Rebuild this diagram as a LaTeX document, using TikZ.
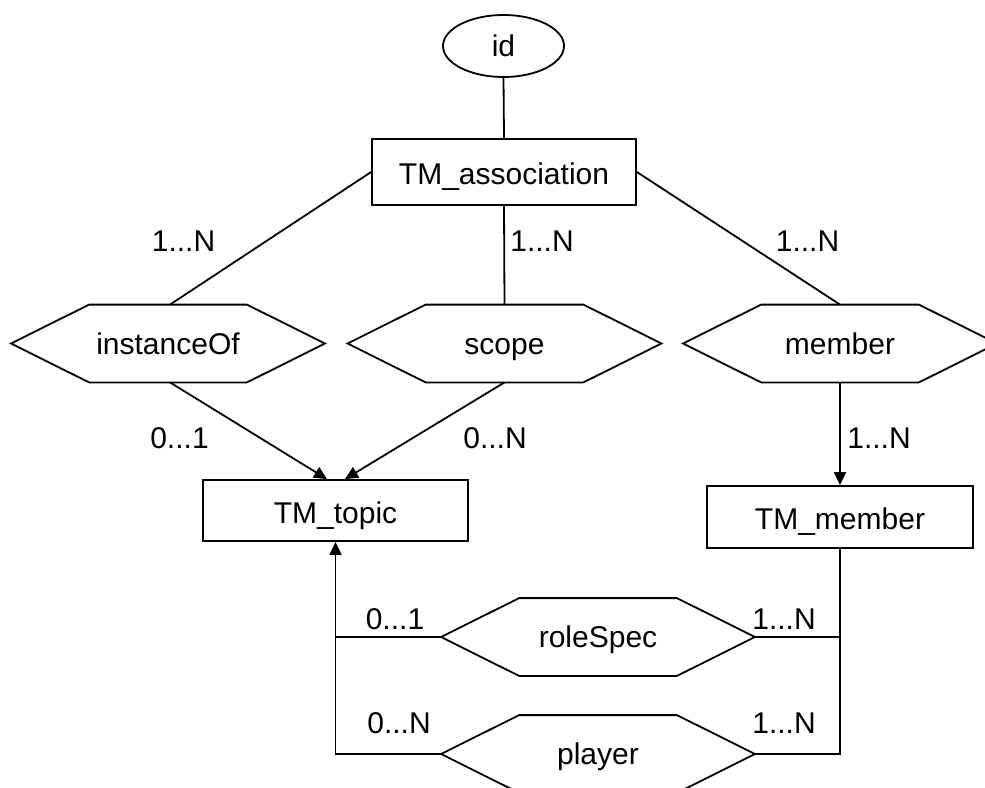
\documentclass[tikz,border=0pt]{standalone}
\usepackage{fontspec}
\setmainfont{Liberation Sans}
\usetikzlibrary{arrows.meta,shapes.geometric}

\tikzset{
  base/.style={font=\fontsize{15}{18}\selectfont, inner sep=0pt, line width=0.9pt,
    text height=10.7pt, text depth=0pt},
  entity/.style={base, draw, rectangle, minimum height=#1, text height=12.7pt},
  attr/.style={base, draw, ellipse, minimum width=60.5pt, minimum height=31pt},
  relbox/.style={base, rectangle, minimum width=156pt, minimum height=38pt},
  card/.style={base},
  link/.style={line width=0.9pt},
  arrowlink/.style={line width=0.9pt, -{Triangle[length=6.5pt,width=6pt]}},
}

\begin{document}
\begin{tikzpicture}[x=0.5pt, y=-0.5pt]
  \useasboundingbox (0,0) rectangle (985,787);
  \fill[white] (0,0) rectangle (985,787);
  \clip (0,0) rectangle (985,787);

  % attribute and entities
  \node[attr] (id) at (503.5,46) {id};
  \node[entity=33pt, minimum width=132pt] (assoc) at (504,172) {TM\_association};
  \node[entity=30.5pt, minimum width=132.5pt] (topic) at (335.5,510.5) {TM\_topic};
  \node[entity=31pt, minimum width=133pt] (tmm) at (840,517) {TM\_member};

  % relationships (hexagons drawn around their boxes)
  \node[relbox] (inst)   at (168,343.5)   {instanceOf};
  \node[relbox] (scope)  at (504.5,343.5) {scope};
  \node[relbox] (member) at (840,343.5)   {member};
  \node[relbox] (role)   at (598,637)     {roleSpec};
  \node[relbox] (player) at (598,754)     {player};
  \foreach \n in {inst,scope,member,role,player}{
    \draw[link, line join=miter]
      (\n.west) -- ([xshift=39pt]\n.north west) -- ([xshift=-39pt]\n.north east)
      -- (\n.east) -- ([xshift=-39pt]\n.south east) -- ([xshift=39pt]\n.south west)
      -- cycle;
  }

  % connectors
  \draw[link] (id.south) -- (assoc.north);
  \draw[link] (assoc.west) -- ([xshift=1pt]inst.north);
  \draw[link] (assoc.south) -- (scope.north);
  \draw[link] (assoc.east) -- (member.north);
  \draw[arrowlink] ([xshift=1pt]inst.south) -- ([xshift=-4.25pt]topic.north);
  \draw[arrowlink] (scope.south) -- ([xshift=4.75pt]topic.north);
  \draw[arrowlink] (member.south) -- (tmm.north);
  \draw[link] (tmm.south) |- (role.east);
  \draw[link] (tmm.south) |- (player.east);
  \draw[arrowlink] (role.west) -| (topic.south);
  \draw[link] (player.west) -| (topic.south);

  % cardinalities
  \node[card] (c1) at (183.5,241) {1...N};
  \node[card] (c2) at (542,241)   {1...N};
  \node[card] (c3) at (807.5,241) {1...N};
  \node[card] (c4) at (179.5,438) {0...1};
  \node[card] (c5) at (495,438)   {0...N};
  \node[card] (c6) at (879,438)   {1...N};
  \node[card] (c7) at (395,619)   {0...1};
  \node[card] (c8) at (784,619)   {1...N};
  \node[card] (c9) at (399,723)   {0...N};
  \node[card] (c10) at (784,723)  {1...N};
\end{tikzpicture}
\end{document}
